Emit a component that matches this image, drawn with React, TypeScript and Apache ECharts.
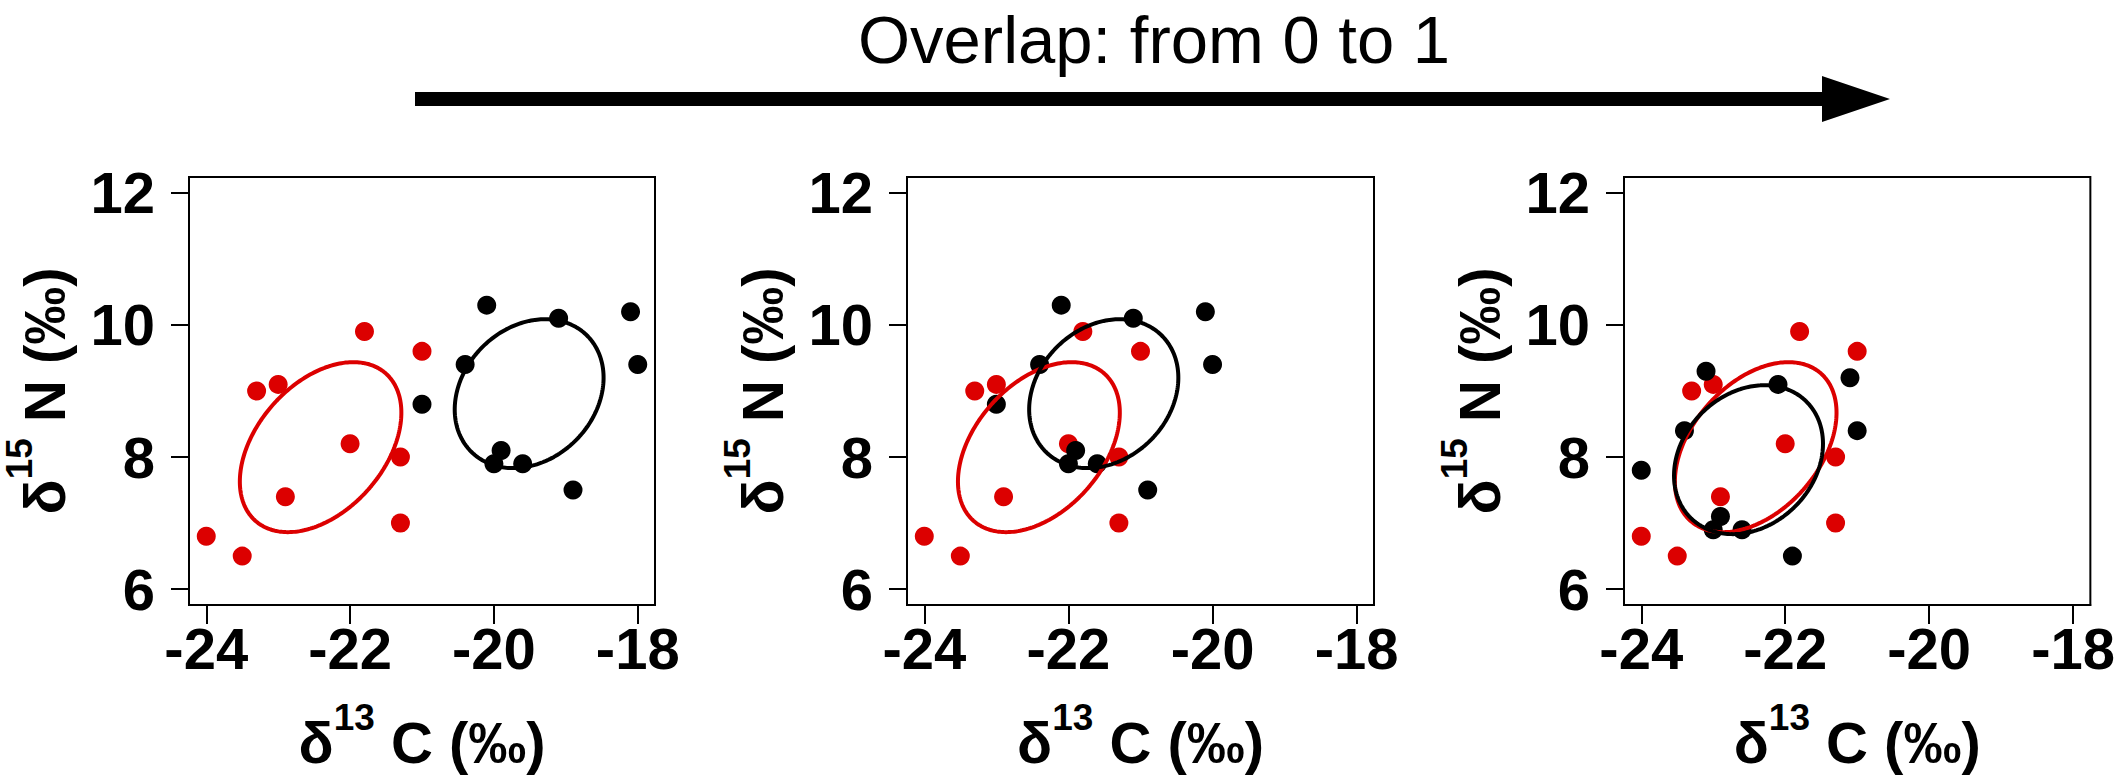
import React, { useEffect, useRef } from "react";
import * as echarts from "echarts";

// ---- data ----
const cTicks = [-24, -22, -20, -18];
const nTicks = [6, 8, 10, 12];

const redX = [-24.0, -23.5, -23.3, -23.0, -22.9, -22.0, -21.8, -21.3, -21.3, -21.0];
const redY = [6.8, 6.5, 9.0, 9.1, 7.4, 8.2, 9.9, 8.0, 7.0, 9.6];

const black1X = [-21.0, -20.1, -20.4, -19.1, -19.9, -20.0, -19.6, -18.9, -18.1, -18.0];
const black1Y = [8.8, 10.3, 9.4, 10.1, 8.1, 7.9, 7.9, 7.5, 10.2, 9.4];

const black2X = [-23.0, -22.1, -22.4, -21.1, -21.9, -22.0, -21.6, -20.9, -20.1, -20.0];
const black2Y = [8.8, 10.3, 9.4, 10.1, 8.1, 7.9, 7.9, 7.5, 10.2, 9.4];

const black3X = [-24.0, -23.1, -23.4, -22.1, -21.1, -21.0, -22.9, -23.0, -22.6, -21.9];
const black3Y = [7.8, 9.3, 8.4, 9.1, 9.2, 8.4, 7.1, 6.9, 6.9, 6.5];

const titleText = "Overlap: from 0 to 1";

// ---- styling ----
const RED = "#DC0000";
const BLACK = "#000000";
const FONT = "'Liberation Sans', Arial, Helvetica, sans-serif";
const panelLefts = [188, 907, 1624];
const PANEL_TOP = 177;
const PANEL_W = 467;
const PANEL_H = 428;

const zip = (xs: number[], ys: number[]) => xs.map((x, i) => [x, ys[i]]);

// Small-sample corrected standard ellipse (SEAc) from the points' covariance
function seac(xs: number[], ys: number[], steps = 240) {
  const n = xs.length;
  const mx = xs.reduce((a, b) => a + b, 0) / n;
  const my = ys.reduce((a, b) => a + b, 0) / n;
  let sxx = 0, syy = 0, sxy = 0;
  for (let i = 0; i < n; i++) {
    const dx = xs[i] - mx, dy = ys[i] - my;
    sxx += dx * dx; syy += dy * dy; sxy += dx * dy;
  }
  const k = 1 / (n - 2); // (n-1)/(n-2) correction of the sample covariance
  sxx *= k; syy *= k; sxy *= k;
  const l11 = Math.sqrt(sxx);
  const l21 = sxy / l11;
  const l22 = Math.sqrt(Math.max(syy - l21 * l21, 0));
  const pts: number[][] = [];
  for (let i = 0; i <= steps; i++) {
    const t = (2 * Math.PI * i) / steps;
    const c = Math.cos(t), s = Math.sin(t);
    pts.push([mx + l11 * c, my + l21 * c + l22 * s]);
  }
  return pts;
}

const panels = [
  { bx: black1X, by: black1Y },
  { bx: black2X, by: black2Y },
  { bx: black3X, by: black3Y },
];

const richName = {
  d: { fontSize: 58, fontWeight: "bold", fontFamily: FONT, color: BLACK, padding: [14, 0, 0, 0] },
  s: { fontSize: 37, fontWeight: "bold", fontFamily: FONT, color: BLACK, verticalAlign: "top" },
  n: { fontSize: 58, fontWeight: "bold", fontFamily: FONT, color: BLACK, padding: [14, 0, 0, 0] },
};

export default function App() {
  const ref = useRef<HTMLDivElement>(null);
  useEffect(() => {
    if (!ref.current) return;
    const chart = echarts.init(ref.current, null, { renderer: "svg" });

    const grid: any[] = [];
    const xAxis: any[] = [];
    const yAxis: any[] = [];
    const series: any[] = [];

    panels.forEach((p, i) => {
      grid.push({
        left: panelLefts[i],
        top: PANEL_TOP,
        width: PANEL_W,
        height: PANEL_H,
        show: true,
        borderColor: BLACK,
        borderWidth: 2,
        backgroundColor: "transparent",
        containLabel: false,
      });
      xAxis.push({
        type: "value",
        gridIndex: i,
        min: -24.24,
        max: -17.76,
        splitLine: { show: false },
        axisLine: { show: true, lineStyle: { color: BLACK, width: 2 } },
        axisTick: {
          show: true,
          inside: false,
          length: 19,
          lineStyle: { color: BLACK, width: 2 },
          customValues: cTicks,
        },
        axisLabel: {
          show: true,
          customValues: cTicks,
          margin: 14,
          fontSize: 58,
          fontWeight: "bold",
          fontFamily: FONT,
          color: BLACK,
          formatter: (v: number) => String(v),
        },
        name: "{d|δ}{s|13}{n| C (‰)}",
        nameLocation: "middle",
        nameGap: 94,
        nameTextStyle: { fontSize: 58, fontWeight: "bold", fontFamily: FONT, color: BLACK, rich: richName },
      });
      yAxis.push({
        type: "value",
        gridIndex: i,
        min: 5.76,
        max: 12.24,
        splitLine: { show: false },
        axisLine: { show: true, lineStyle: { color: BLACK, width: 2 } },
        axisTick: {
          show: true,
          inside: false,
          length: 18,
          lineStyle: { color: BLACK, width: 2 },
          customValues: nTicks,
        },
        axisLabel: {
          show: true,
          customValues: nTicks,
          margin: 34,
          fontSize: 58,
          fontWeight: "bold",
          fontFamily: FONT,
          color: BLACK,
          formatter: (v: number) => String(v),
        },
        name: "{d|δ}{s|15}{n| N (‰)}",
        nameLocation: "middle",
        nameRotate: 90,
        nameGap: 116,
        nameTextStyle: { fontSize: 58, fontWeight: "bold", fontFamily: FONT, color: BLACK, rich: richName },
      });

      series.push({
        type: "scatter",
        xAxisIndex: i,
        yAxisIndex: i,
        data: zip(redX, redY),
        symbol: "circle",
        symbolSize: 19,
        itemStyle: { color: RED, opacity: 1 },
        z: 2,
      });
      series.push({
        type: "scatter",
        xAxisIndex: i,
        yAxisIndex: i,
        data: zip(p.bx, p.by),
        symbol: "circle",
        symbolSize: 19,
        itemStyle: { color: BLACK, opacity: 1 },
        z: 3,
      });
      series.push({
        type: "line",
        xAxisIndex: i,
        yAxisIndex: i,
        data: seac(redX, redY),
        showSymbol: false,
        symbol: "none",
        smooth: false,
        lineStyle: { color: RED, width: 4 },
        z: 4,
        silent: true,
      });
      series.push({
        type: "line",
        xAxisIndex: i,
        yAxisIndex: i,
        data: seac(p.bx, p.by),
        showSymbol: false,
        symbol: "none",
        smooth: false,
        lineStyle: { color: BLACK, width: 4 },
        z: 5,
        silent: true,
      });
    });

    chart.setOption({
      animation: false,
      backgroundColor: "#ffffff",
      grid,
      xAxis,
      yAxis,
      series,
      graphic: [
        {
          type: "text",
          x: 1154,
          y: 39,
          style: {
            text: titleText,
            fontSize: 67,
            fontFamily: FONT,
            fill: BLACK,
            align: "center",
            verticalAlign: "middle",
          },
        },
        {
          type: "polygon",
          shape: {
            points: [
              [415, 92],
              [1822, 92],
              [1822, 76],
              [1890, 99],
              [1822, 122],
              [1822, 106],
              [415, 106],
            ],
          },
          style: { fill: BLACK },
        },
      ],
    });
    return () => chart.dispose();
  }, []);

  return (
    <div
      ref={ref}
      style={{ position: "absolute", left: 0, top: 0, width: 2118, height: 777 }}
    />
  );
}
